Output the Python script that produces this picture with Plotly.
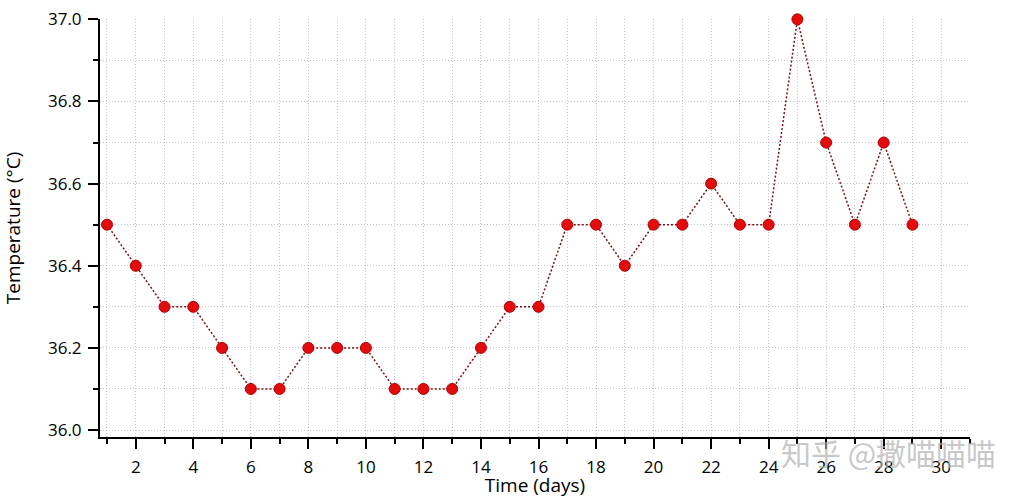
import plotly.graph_objects as go

days = list(range(1, 30))
temps = [36.5, 36.4, 36.3, 36.3, 36.2, 36.1, 36.1, 36.2, 36.2, 36.2,
         36.1, 36.1, 36.1, 36.2, 36.3, 36.3, 36.5, 36.5, 36.4, 36.5,
         36.5, 36.6, 36.5, 36.5, 37.0, 36.7, 36.5, 36.7, 36.5]

x_title = "Time (days)"
y_title = "Temperature (°C)"
watermark = "知乎 @撒喵喵喵"

FONT = "'Open Sans', Lato, sans-serif"
GRID = "rgba(175,175,200,0.75)"
GDASH = "1px,2px"

fig = go.Figure()
fig.add_trace(go.Scatter(
    x=days, y=temps, mode="lines+markers",
    line=dict(color="#7a1010", width=1.5, dash="2px,2px"),
    marker=dict(color="#e30b0b", size=11, line=dict(color="#b00000", width=1)),
    showlegend=False,
    cliponaxis=False,
    hoverinfo="skip",
))

fig.update_layout(
    width=1024, height=498,
    margin=dict(l=100, r=54, t=19, b=61),
    paper_bgcolor="white", plot_bgcolor="white",
    font=dict(family=FONT, size=17, color="black"),
    hovermode=False,
)
fig.update_xaxes(
    range=[0.757, 31], tick0=2, dtick=2, automargin=False,
    showline=True, linecolor="black", linewidth=2,
    ticks="outside", ticklen=10, tickwidth=2, tickcolor="black",
    ticklabelstandoff=4, ticklabeloverflow="allow",
    showgrid=True, gridcolor=GRID, griddash=GDASH, gridwidth=1,
    zeroline=False,
    minor=dict(dtick=1, tick0=1, ticks="outside", ticklen=5, tickwidth=2,
               tickcolor="black", showgrid=True, gridcolor=GRID,
               griddash=GDASH, gridwidth=1),
    title=dict(text=x_title, font=dict(size=19), standoff=0),
    tickfont=dict(size=17),
)
fig.update_yaxes(
    range=[35.983, 37.0008], tick0=36.0, dtick=0.2, tickformat=".1f",
    automargin=False,
    showline=True, linecolor="black", linewidth=2,
    ticks="outside", ticklen=10, tickwidth=2, tickcolor="black",
    ticklabelstandoff=3, ticklabeloverflow="allow",
    showgrid=True, gridcolor=GRID, griddash=GDASH, gridwidth=1,
    zeroline=False,
    minor=dict(dtick=0.1, tick0=36.0, ticks="outside", ticklen=5, tickwidth=2,
               tickcolor="black", showgrid=True, gridcolor=GRID,
               griddash=GDASH, gridwidth=1),
    title=dict(text=y_title, font=dict(size=19), standoff=34),
    tickfont=dict(size=17),
)

fig.add_annotation(
    text=watermark, xref="paper", yref="paper", x=1.032, y=-0.036,
    xanchor="right", yanchor="middle", showarrow=False,
    font=dict(family="'Noto Sans CJK SC', sans-serif", size=30,
              color="rgba(175,175,175,0.7)"),
)

fig.write_html("out.html", config={"displayModeBar": False, "staticPlot": True},
               post_script="document.body.style.margin='0';")
